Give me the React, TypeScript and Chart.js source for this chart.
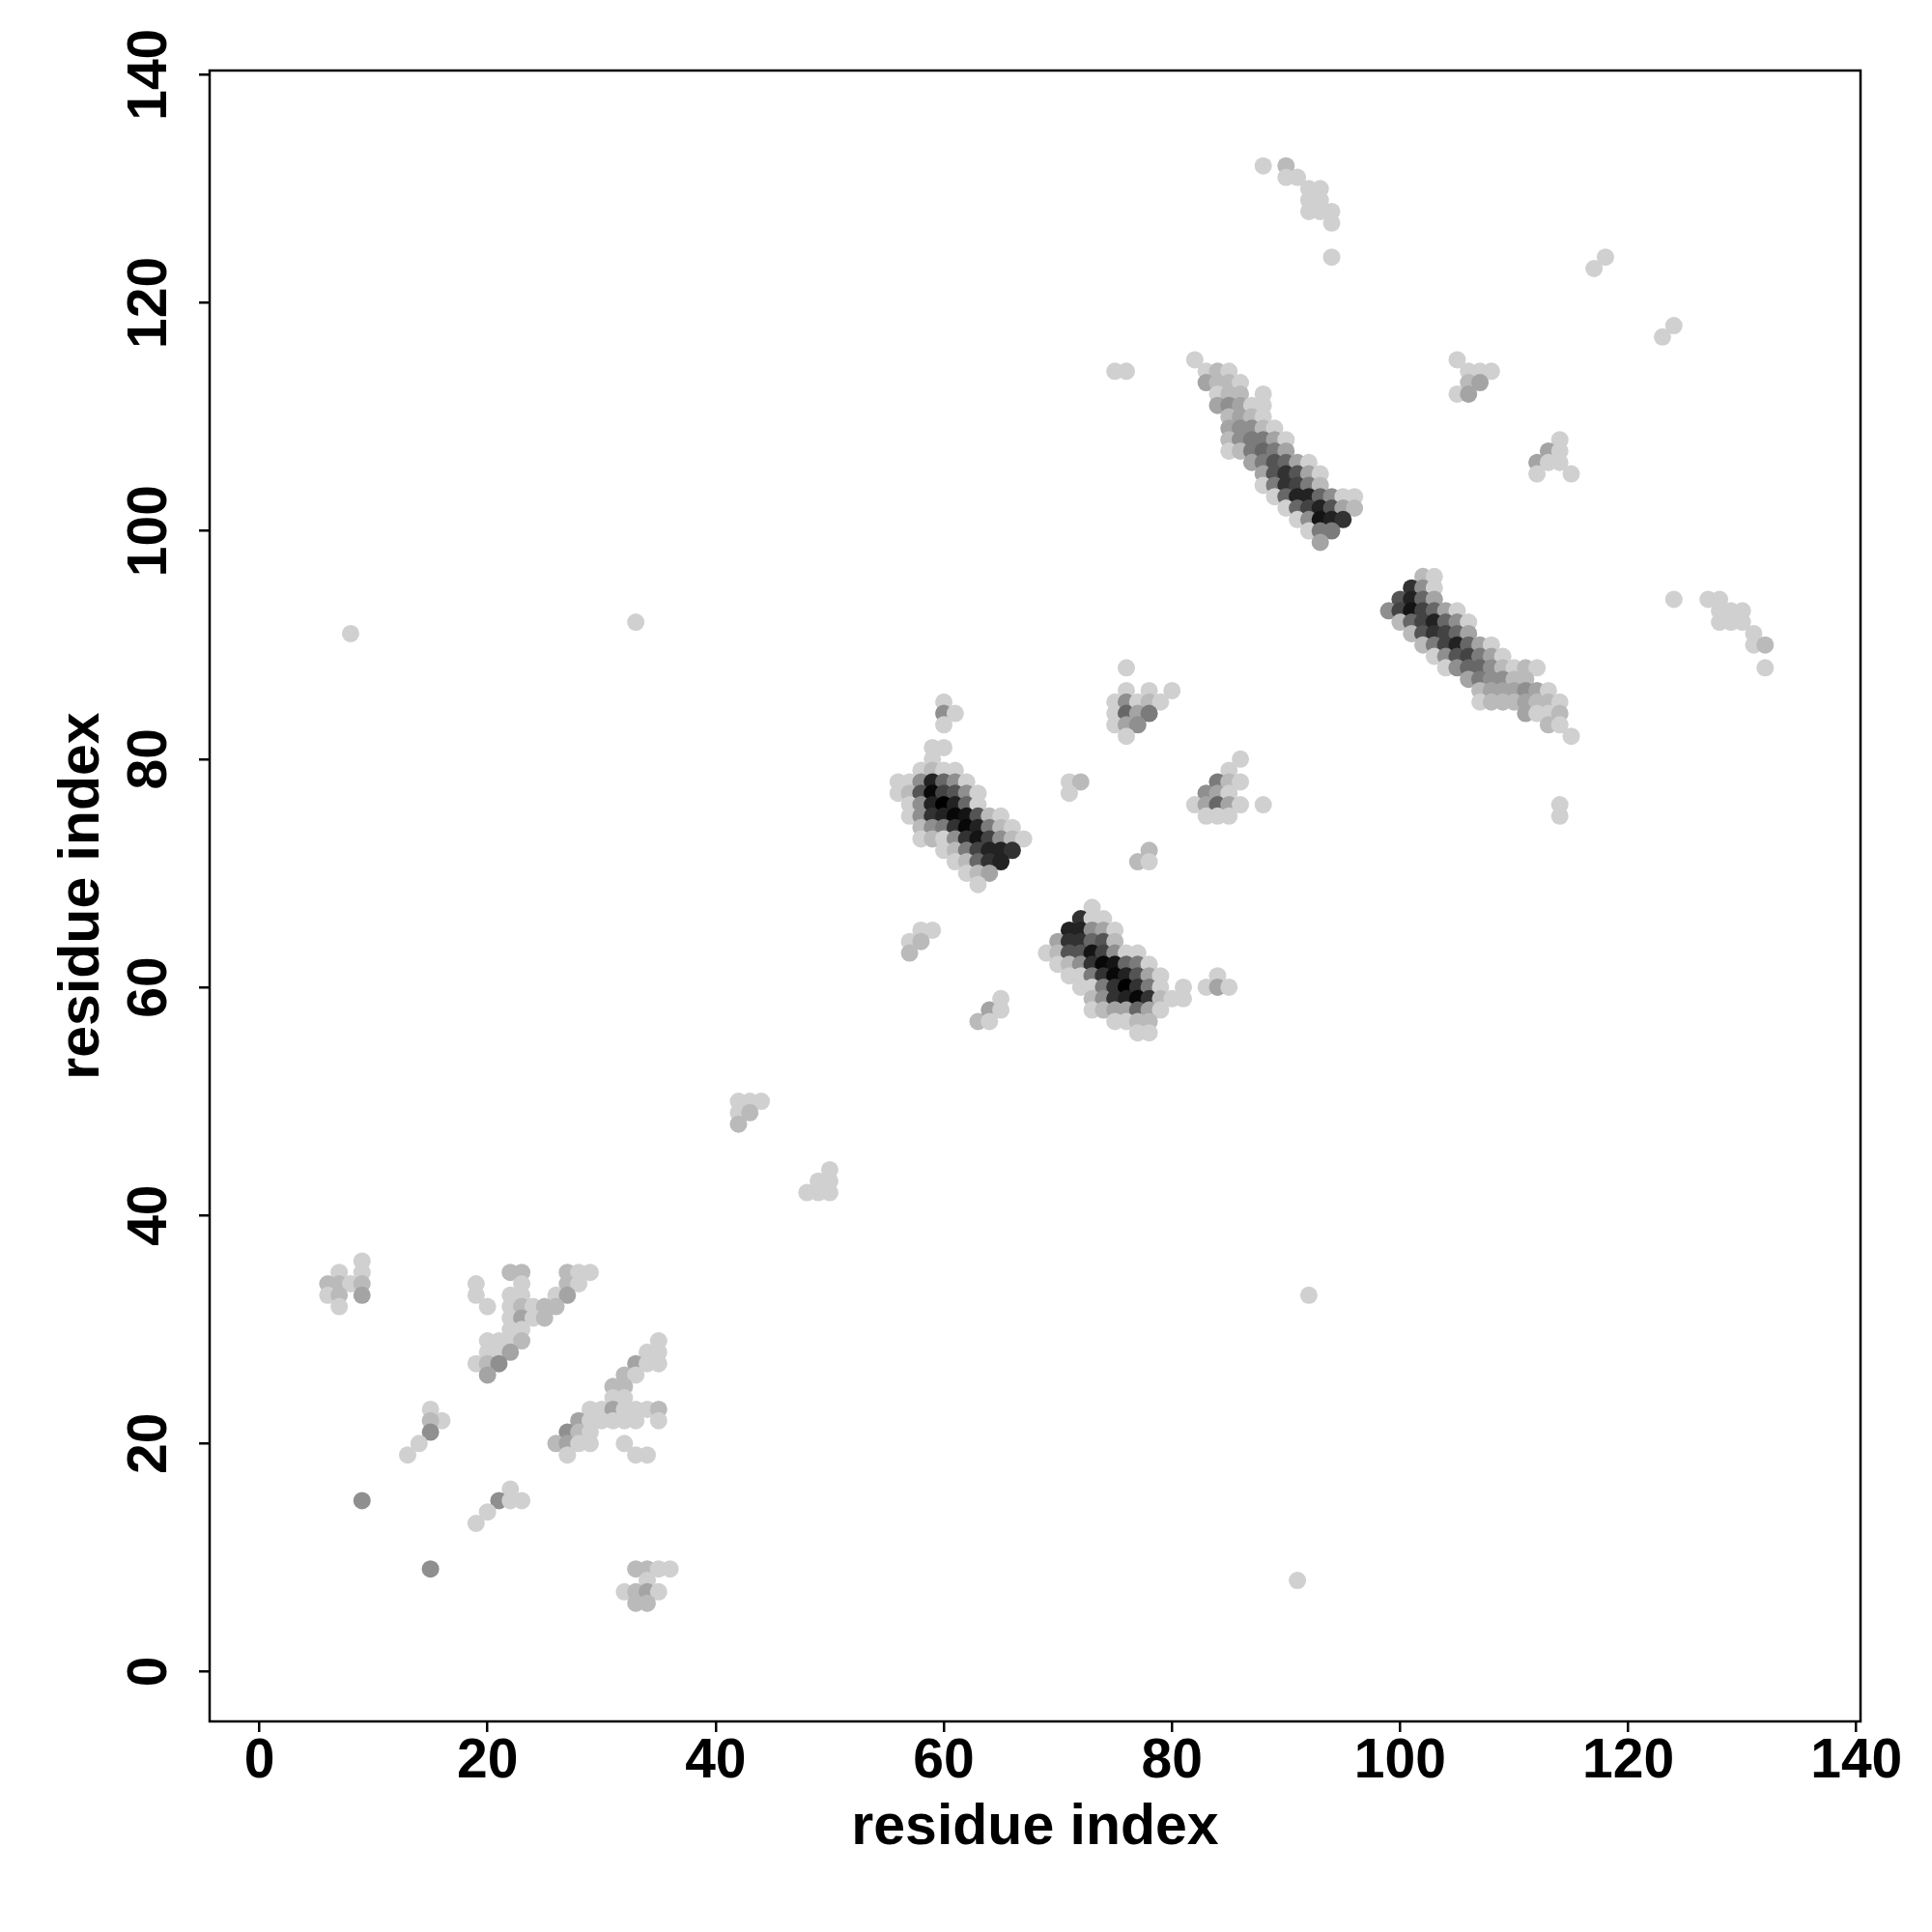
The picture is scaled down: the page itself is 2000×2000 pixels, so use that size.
import React, { useEffect, useRef } from "react";
import { Chart, registerables } from "chart.js";

Chart.register(...registerables);

// [residue i, residue j, contact level 0..12] (0 = lightest grey, 12 = black)
type C = [number, number, number];

const sheetA: C[] = [
  [60,85,0],[60,84,3],[61,84,0],[60,83,0],[59,81,0],[60,81,0],[59,80,0],
  [58,79,0],[59,79,1],[60,79,0],[61,79,0],
  [56,78,0],[57,78,0],[58,78,3],[59,78,9],[60,78,5],[61,78,3],[62,78,0],
  [56,77,0],[57,77,1],[58,77,6],[59,77,11],[60,77,7],[61,77,6],[62,77,3],[63,77,0],
  [57,76,0],[58,76,3],[59,76,9],[60,76,12],[61,76,9],[62,76,5],[63,76,0],
  [57,75,0],[58,75,3],[59,75,8],[60,75,9],[61,75,11],[62,75,10],[63,75,6],[64,75,1],[65,75,0],
  [58,74,1],[59,74,3],[60,74,4],[61,74,8],[62,74,11],[63,74,9],[64,74,4],[65,74,1],[66,74,0],
  [58,73,0],[59,73,1],[60,73,0],[61,73,3],[62,73,8],[63,73,10],[64,73,7],[65,73,3],[66,73,1],[67,73,0],
  [60,72,0],[61,72,1],[62,72,4],[63,72,7],[64,72,9],[65,72,9],[66,72,8],
  [61,71,0],[62,71,1],[63,71,5],[64,71,8],[65,71,9],
  [62,70,0],[63,70,1],[64,70,2],[63,69,0],
];

const sheetB: C[] = [
  [73,67,0],[72,66,8],[73,66,0],[74,66,0],
  [71,65,9],[72,65,9],[73,65,3],[74,65,2],[75,65,0],
  [70,64,2],[71,64,8],[72,64,8],[73,64,5],[74,64,6],[75,64,1],
  [69,63,0],[70,63,1],[71,63,6],[72,63,6],[73,63,10],[74,63,7],[75,63,3],[76,63,0],[77,63,0],
  [70,62,0],[71,62,1],[72,62,3],[73,62,8],[74,62,11],[75,62,10],[76,62,5],[77,62,4],[78,62,0],
  [71,61,0],[72,61,0],[73,61,4],[74,61,8],[75,61,11],[76,61,9],[77,61,6],[78,61,2],[79,61,0],
  [72,60,0],[73,60,0],[74,60,4],[75,60,8],[76,60,12],[77,60,8],[78,60,4],[79,60,0],[81,60,0],
  [73,59,1],[74,59,3],[75,59,8],[76,59,9],[77,59,11],[78,59,8],[79,59,1],[80,59,0],[81,59,0],
  [73,58,0],[74,58,1],[75,58,2],[76,58,2],[77,58,5],[78,58,2],[79,58,0],
  [75,57,0],[76,57,0],[77,57,1],[78,57,1],[77,56,0],[78,56,0],
];

const sheetC: C[] = [
  [82,115,0],[83,114,0],[84,114,1],[85,114,0],
  [83,113,2],[84,113,1],[85,113,1],[86,113,0],
  [84,112,0],[85,112,1],[86,112,1],[88,112,0],
  [84,111,2],[85,111,3],[86,111,2],[87,111,0],[88,111,0],
  [85,110,1],[86,110,2],[87,110,1],[88,110,0],
  [85,109,2],[86,109,3],[87,109,3],[88,109,1],[89,109,0],
  [85,108,1],[86,108,3],[87,108,4],[88,108,4],[89,108,2],[90,108,0],
  [85,107,0],[86,107,1],[87,107,4],[88,107,5],[89,107,4],[90,107,2],
  [87,106,2],[88,106,4],[89,106,6],[90,106,5],[91,106,2],[92,106,0],
  [88,105,2],[89,105,6],[90,105,8],[91,105,6],[92,105,2],[93,105,0],
  [88,104,0],[89,104,4],[90,104,8],[91,104,7],[92,104,4],[93,104,1],
  [89,103,0],[90,103,5],[91,103,9],[92,103,9],[93,103,5],[94,103,3],[95,103,0],[96,103,0],
  [90,102,0],[91,102,5],[92,102,7],[93,102,9],[94,102,6],[95,102,2],[96,102,1],
  [91,101,0],[92,101,3],[93,101,10],[94,101,9],[95,101,8],
  [92,100,0],[93,100,4],[94,100,4],[93,99,2],
];

const sheetD: C[] = [
  [102,96,1],[103,96,0],[101,95,8],[102,95,3],[103,95,0],
  [100,94,6],[101,94,9],[102,94,5],[103,94,2],
  [99,93,3],[100,93,7],[101,93,10],[102,93,7],[103,93,5],[104,93,2],[105,93,0],
  [100,92,1],[101,92,5],[102,92,7],[103,92,9],[104,92,5],[105,92,3],[106,92,0],
  [101,91,1],[102,91,6],[103,91,8],[104,91,7],[105,91,5],[106,91,2],
  [102,90,1],[103,90,4],[104,90,7],[105,90,9],[106,90,5],[107,90,2],[108,90,0],
  [103,89,0],[104,89,3],[105,89,6],[106,89,7],[107,89,4],[108,89,2],[109,89,0],
  [104,88,0],[105,88,3],[106,88,5],[107,88,5],[108,88,3],[109,88,1],[110,88,0],[111,88,1],[112,88,0],
  [106,87,2],[107,87,4],[108,87,3],[109,87,3],[110,87,1],[111,87,1],
  [107,86,1],[108,86,2],[109,86,2],[110,86,2],[111,86,3],[112,86,2],[113,86,0],
  [107,85,0],[108,85,1],[109,85,1],[110,85,1],[111,85,2],[112,85,1],[113,85,1],[114,85,0],
  [111,84,2],[112,84,0],[113,84,0],[114,84,1],[113,83,1],[114,83,0],[115,82,0],
];

const middleContacts: C[] = [
  [76,88,0],[76,86,0],[78,86,0],[80,86,0],[75,85,0],[76,85,3],[77,85,0],[78,85,1],[79,85,0],
  [75,84,0],[76,84,5],[77,84,2],[78,84,4],[75,83,0],[76,83,2],[77,83,3],[76,82,0],
  [86,80,0],[85,79,0],[84,78,4],[85,78,1],[86,78,0],[83,77,3],[84,77,2],[85,77,0],
  [82,76,0],[83,76,2],[84,76,5],[85,76,2],[86,76,0],[88,76,0],[83,75,0],[84,75,0],[85,75,0],
  [71,78,0],[72,78,1],[71,77,0],[78,72,1],[77,71,1],[78,71,0],
  [84,61,0],[83,60,0],[84,60,2],[85,60,0],
  [57,64,0],[58,65,0],[59,65,0],[58,64,1],[57,63,1],
  [63,57,1],[64,58,2],[64,57,0],[65,59,0],[65,58,0],
  [42,50,0],[43,50,0],[44,50,0],[42,49,0],[43,49,1],[42,48,1],
  [48,42,0],[49,42,0],[50,42,0],[49,43,0],[50,43,0],[50,44,0],
];

const upperContacts: C[] = [
  [88,132,0],[90,132,1],[90,131,0],[91,131,0],[92,130,0],[93,130,0],[92,129,0],[93,129,0],
  [92,128,0],[93,128,0],[94,128,0],[94,127,0],[94,124,0],
  [75,114,0],[76,114,0],
  [105,115,0],[106,114,0],[107,114,0],[108,114,0],[106,113,1],[107,113,2],[105,112,0],[106,112,2],
  [114,108,0],[113,107,2],[114,107,0],[112,106,2],[113,106,0],[114,106,0],[112,105,0],[115,105,0],
  [117,123,0],[118,124,0],[123,117,0],[124,118,0],
  [124,94,0],[127,94,0],[128,94,0],[128,93,0],[129,93,0],[130,93,0],[128,92,0],[129,92,0],[130,92,0],
  [131,91,0],[131,90,0],[132,90,1],[132,88,0],[114,76,0],[114,75,0],
  [8,91,0],[33,92,0],[92,33,0],[91,8,0],[9,15,3],[15,9,3],
];

const lowerContacts: C[] = [
  [9,36,0],[7,35,0],[9,35,0],[6,34,1],[7,34,1],[8,34,0],[9,34,1],[6,33,0],[7,33,1],[9,33,2],[7,32,0],
  [19,34,0],[19,33,0],[20,32,0],
  [15,23,0],[16,22,0],[15,22,1],[15,21,3],[14,20,0],[13,19,0],
  [22,35,1],[23,35,1],[27,35,1],[28,35,0],[29,35,0],
  [23,34,0],[27,34,1],[28,34,0],
  [22,33,0],[23,33,0],[26,33,0],[27,33,2],
  [22,32,0],[23,32,1],[24,32,0],[25,32,1],[26,32,1],
  [22,31,0],[23,31,2],[24,31,0],[25,31,1],
  [22,30,0],[23,30,0],
  [20,29,0],[21,29,0],[22,29,0],[23,29,1],
  [20,28,0],[21,28,0],[22,28,2],
  [19,27,0],[20,27,1],[21,27,3],[20,26,2],
  [35,29,0],[34,28,0],[35,28,0],[33,27,2],[34,27,0],[35,27,0],[32,26,1],[33,26,0],
  [31,25,1],[32,25,1],[31,24,0],[32,24,0],
  [29,23,0],[30,23,0],[31,23,2],[32,23,0],[33,23,0],[34,23,0],[35,23,1],
  [28,22,2],[29,22,0],[30,22,0],[31,22,0],[32,22,0],[33,22,0],[35,22,0],
  [27,21,3],[28,21,1],[29,21,0],
  [26,20,1],[27,20,2],[28,20,0],[29,20,0],[32,20,0],
  [27,19,0],[33,19,0],[34,19,0],
  [22,16,0],[21,15,3],[22,15,0],[23,15,0],[20,14,0],[19,13,0],
  [33,9,1],[34,9,1],[35,9,0],[36,9,0],[34,8,0],[32,7,0],[33,7,1],[34,7,2],[35,7,0],[33,6,1],[34,6,1],
];

const tickValues = [0, 20, 40, 60, 80, 100, 120, 140];
const axisTitle = "residue index";
const residueRange = [1, 135];

const FONT = '"Liberation Sans", Arial, Helvetica, sans-serif';

function greyFor(level: number): string {
  const g = Math.round(208 * Math.pow(1 - level / 12, 1.3));
  return `rgb(${g},${g},${g})`;
}

export default function App() {
  const ref = useRef<HTMLCanvasElement | null>(null);

  useEffect(() => {
    document.body.style.margin = "0";
    const canvas = ref.current;
    if (!canvas) return;
    const all: C[] = [
      ...lowerContacts, ...middleContacts, ...upperContacts,
      ...sheetA, ...sheetB, ...sheetC, ...sheetD,
    ];
    const span = residueRange[1] - residueRange[0];
    const lo = residueRange[0] - 0.04 * span;
    const hi = residueRange[1] + 0.04 * span;

    const textPlugin = {
      id: "rstyle",
      afterDraw(chart: any) {
        const { ctx, chartArea } = chart;
        const { left, top, right, bottom } = chartArea;
        ctx.save();
        ctx.strokeStyle = "#000";
        ctx.lineWidth = 2.5;
        ctx.strokeRect(left, top, right - left, bottom - top);
        ctx.fillStyle = "#000";
        ctx.font = `bold 57px ${FONT}`;
        const xs = chart.scales.x;
        const ys = chart.scales.y;
        ctx.textAlign = "center";
        ctx.textBaseline = "alphabetic";
        xs.ticks.forEach((t: any) => {
          ctx.fillText(String(t.value), xs.getPixelForValue(t.value), 1840);
        });
        ys.ticks.forEach((t: any) => {
          ctx.save();
          ctx.translate(172, ys.getPixelForValue(t.value));
          ctx.rotate(-Math.PI / 2);
          ctx.fillText(String(t.value), 0, 0);
          ctx.restore();
        });
        ctx.font = `bold 59px ${FONT}`;
        ctx.fillText(axisTitle, (left + right) / 2, 1909);
        ctx.save();
        ctx.translate(102, (top + bottom) / 2);
        ctx.rotate(-Math.PI / 2);
        ctx.fillText(axisTitle, 0, 0);
        ctx.restore();
        ctx.restore();
      },
    };

    const axisCommon = {
      type: "linear" as const,
      min: lo,
      max: hi,
      afterBuildTicks(scale: any) {
        scale.ticks = tickValues.map((v) => ({ value: v }));
      },
      ticks: { display: false },
      grid: {
        display: true,
        drawOnChartArea: false,
        drawTicks: true,
        tickLength: 11,
        color: "#000",
        lineWidth: 2.5,
      },
      border: { display: false },
    };

    const chart = new Chart(canvas, {
      type: "scatter",
      data: {
        datasets: [
          {
            data: all.map(([i, j]) => ({ x: i, y: j })),
            backgroundColor: all.map(([, , l]) => greyFor(l)),
            borderWidth: 0,
            pointRadius: 9,
            pointHoverRadius: 9,
          },
        ],
      },
      options: {
        animation: false,
        responsive: false,
        devicePixelRatio: 1,
        layout: { padding: { left: 0, right: 74, top: 73, bottom: 0 } },
        plugins: { legend: { display: false }, tooltip: { enabled: false } },
        scales: {
          x: {
            ...axisCommon,
            position: "bottom",
            afterFit(scale: any) {
              scale.height = 218;
            },
          },
          y: {
            ...axisCommon,
            position: "left",
            afterFit(scale: any) {
              scale.width = 217;
            },
          },
        },
      },
      plugins: [textPlugin],
    });
    return () => chart.destroy();
  }, []);

  return (
    <canvas
      ref={ref}
      width={2000}
      height={2000}
      style={{ display: "block", width: 2000, height: 2000, background: "#fff" }}
    />
  );
}
